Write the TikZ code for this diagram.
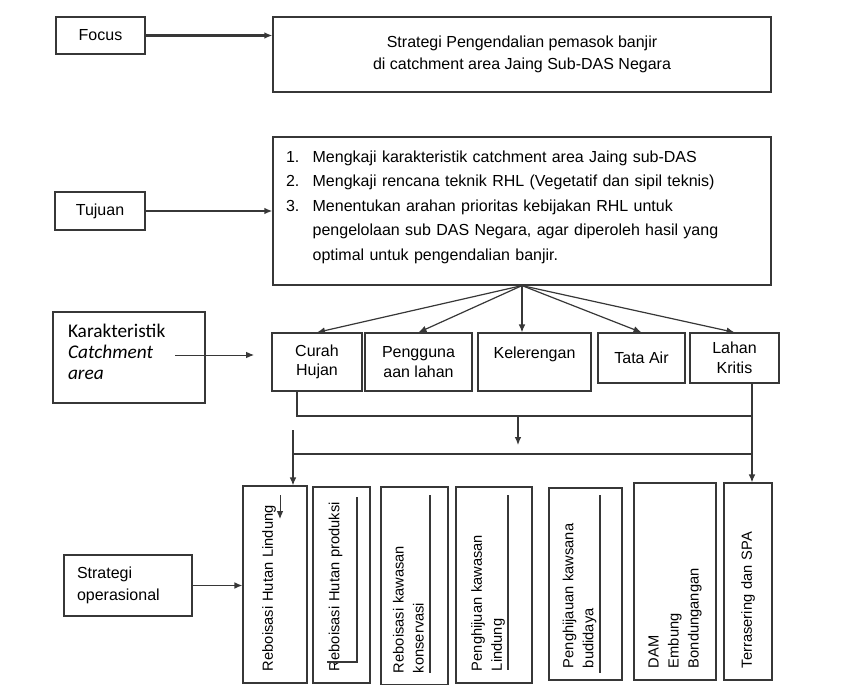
\documentclass[tikz,border=0pt]{standalone}
\usepackage{fontspec}
\setmainfont{Liberation Sans}
\newfontfamily\calibri{Carlito}
\usetikzlibrary{arrows.meta, positioning, calc}
\definecolor{garis}{RGB}{55,55,55}

\newcommand{\nomor}[1]{\makebox[20pt][l]{#1}}
\newcommand{\ruang}[1]{\par\kern#1\hrule height 0pt}

\begin{document}
\begin{tikzpicture}[x=0.75pt, y=-0.75pt,
  box/.style={draw=garis, line width=0.9pt, align=center, inner sep=0pt,
              font=\fontsize{12}{14.6}\selectfont},
  kecil/.style={box, minimum height=43.5pt},
  tegak/.style={box, rotate=90, align=left, inner xsep=9pt,
                font=\fontsize{11}{15}\selectfont},
  arr/.style={-{Latex[length=6pt, width=5pt]}, garis, line width=0.9pt},
  tebal/.style={arr, line width=1.6pt},
  line/.style={garis, line width=0.9pt}
]
\useasboundingbox (0,0) rectangle (851,685);

% baris atas
\node[box, minimum width=66.75pt, minimum height=27.75pt] (focus) at (100.5,35.5) {Focus};
\node[box, minimum width=373.5pt, minimum height=56.25pt,
      font=\fontsize{12}{16.5}\selectfont] (strat) at (522,54.5)
  {Strategi Pengendalian pemasok banjir\\di catchment area Jaing Sub-DAS Negara};
\node[box, minimum width=67.5pt, minimum height=28.5pt] (tujuan) at (100,211) {Tujuan};
\node[box, text width=354pt, inner xsep=9.75pt, minimum height=111pt, align=left,
      font=\fontsize{12}{18.4}\selectfont] (tj) at (522,211)
  {\nomor{1.}Mengkaji karakteristik catchment area Jaing sub-DAS\\
   \nomor{2.}Mengkaji rencana teknik RHL (Vegetatif dan sipil teknis)\\
   \nomor{3.}Menentukan arahan prioritas kebijakan RHL untuk\\
   \nomor{}pengelolaan sub DAS Negara, agar diperoleh hasil yang\\
   \nomor{}optimal untuk pengendalian banjir.\ruang{6pt}};
\draw[tebal] (focus.east) -- (focus.east -| strat.west);
\draw[tebal] (tujuan.east) -- (tujuan.east -| tj.west);

% karakteristik
\node[box, minimum width=114pt, minimum height=68.25pt, text width=91.5pt, inner xsep=11.25pt,
      align=left, font=\calibri\fontsize{14.5}{15.75}\selectfont] (kr) at (129,357.5)
  {Karakteristik\\\textit{Catchment}\\\textit{area}\ruang{9pt}};
\node[kecil, minimum width=67.5pt] (ch) at (317,362) {Curah\\Hujan};
\node[kecil, minimum width=80.25pt] (pl) at (418.5,362) {Pengguna\\aan lahan};
\node[kecil, minimum width=84.75pt] (kl) at (534.5,362) {Kelerengan\\\mbox{}};
\node[box, minimum width=65.25pt, minimum height=37.5pt] (ta) at (641.5,358) {Tata Air};
\node[box, minimum width=66.75pt, minimum height=37.5pt] (lk) at (734.5,358) {Lahan\\Kritis};
\coordinate (krA) at (175,355);
\coordinate (krB) at (254,355);
\draw[arr, line width=0.7pt] (krA) -- (krB);
\draw[arr] (tj.south) -- (ch.north);
\draw[arr] (tj.south) -- (pl.north);
\draw[arr] (tj.south) -- (tj.south |- kl.north);
\draw[arr] (tj.south) -- (ta.north);
\draw[arr] (tj.south) -- (lk.north);

% strategi operasional
\node[box, minimum width=96pt, minimum height=45.75pt, text width=76.5pt, inner xsep=9.75pt,
      align=left, font=\fontsize{12}{16.5}\selectfont] (so) at (128,585.5)
  {Strategi\\operasional};
% rotate=90: .east = atas, .north = kiri
\node[tegak, minimum width=147.75pt, minimum height=48pt, text width=129.75pt] (rl) at (275,584.5)
  {Reboisasi Hutan Lindung\ruang{9pt}};
\node[tegak, minimum width=147pt, minimum height=42.75pt, text width=129pt] (rp) at (341.5,585)
  {Reboisasi Hutan produksi\ruang{9pt}};
\node[tegak, minimum width=148.5pt, minimum height=50.25pt, text width=130.5pt] (rk) at (414.5,586)
  {Reboisasi kawasan\\konservasi\ruang{9pt}};
\node[tegak, minimum width=147pt, minimum height=57pt, text width=129pt] (pk) at (494,585)
  {Penghijuan kawasan\\Lindung\ruang{9pt}};
\node[tegak, minimum width=144pt, minimum height=54.75pt, text width=126pt] (pb) at (585.5,584)
  {Penghijauan kawsana\\budidaya\ruang{9pt}};
\node[tegak, minimum width=147.75pt, minimum height=61.5pt, text width=129.75pt] (dam) at (675,581.5)
  {DAM\\Embung\\Bondungangan};
\node[tegak, minimum width=147.75pt, minimum height=36pt, text width=129.75pt] (ts) at (748,581.5)
  {Terrasering dan SPA};
\draw[arr] (so.east) -- (so.east -| rl.north);

% garis penghubung
\coordinate (kiri) at (297,416);
\coordinate (tengah) at (518,416);
\coordinate (kanan) at (752,416);
\coordinate (bawah) at (518,445);
\coordinate (kiri2) at (293,454);
\coordinate (kiri3) at (293,430);
\draw[line] (kiri |- ch.south) -- (kiri) -- (kanan);
\draw[arr] (kanan |- lk.south) -- (kanan |- ts.east);
\draw[arr] (tengah) -- (bawah);
\draw[line] (kiri2) -- (kiri2 -| kanan);
\draw[arr] (kiri3) -- (kiri3 |- rl.east);

% sisa bingkai kotak teks
\draw[arr, line width=0.7pt] (280,495) -- (280,519);
\draw[line] (327,662) -- (357,662) -- (357,497);
\draw[line] (430,495) -- (430,673);
\draw[line] (508,495) -- (508,670);
\draw[line] (600,495) -- (600,673);
\end{tikzpicture}
\end{document}
